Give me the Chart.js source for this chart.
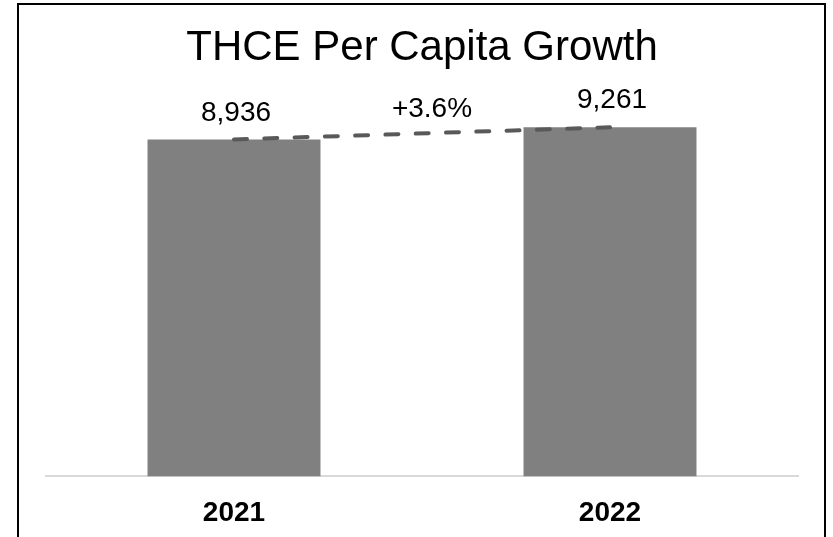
<!DOCTYPE html>
<html>
<head>
<meta charset="utf-8">
<script src="https://cdn.jsdelivr.net/npm/chart.js@4"></script>
<style>
  html, body { margin: 0; padding: 0; background: #fff; overflow: hidden; }
  #frame { position: absolute; left: 17px; top: 3px; width: 805px; height: 600px; border: 2px solid #000; }
  #growthChart { position: absolute; left: 0; top: 0; }
</style>
</head>
<body>
<div id="frame"></div>
<!-- canvas is a bit taller than the window, the bottom is cut off like in the original -->
<canvas id="growthChart" width="833" height="550"></canvas>
<script>
const years = ['2021', '2022'];
const perCapita = [8936, 9261];

const FONT = '"Liberation Sans", Arial, sans-serif';

// growth between the two years, e.g. +3.6%
let growth = (perCapita[1] / perCapita[0] - 1) * 100;
let growthText = (growth >= 0 ? '+' : '') + growth.toFixed(1) + '%';

/*labels above the bars and the growth label over the dashed line*/
const valueLabels = {
  id: 'valueLabels',
  afterDatasetsDraw(chart) {
    const ctx = chart.ctx;
    const bars = chart.getDatasetMeta(0).data;
    const pts = chart.getDatasetMeta(1).data;
    ctx.save();
    ctx.fillStyle = '#000';
    ctx.font = '28px ' + FONT;
    ctx.textAlign = 'center';
    ctx.textBaseline = 'alphabetic';
    for (i = 0; i < bars.length; i++) {
      ctx.fillText(perCapita[i].toLocaleString('en-US'), bars[i].x + 2, bars[i].y - 19);
    }
    let midX = (pts[0].x + pts[1].x) / 2;
    let midY = (pts[0].y + pts[1].y) / 2;
    ctx.fillText(growthText, midX + 10, midY - 16);
    ctx.restore();
  }
};

new Chart(document.getElementById('growthChart'), {
  data: {
    labels: years,
    datasets: [{
      type: 'bar',
      data: perCapita,
      backgroundColor: '#808080',
      categoryPercentage: 1,
      barPercentage: 0.46,
      order: 2
    },
    {
      type: 'line',
      data: perCapita,
      borderColor: '#595959',
      borderWidth: 4,
      borderDash: [13, 17.3],
      borderCapStyle: 'round',
      pointRadius: 0,
      fill: false,
      order: 1
    }]
  },
  options: {
    responsive: false,
    animation: false,
    layout: { padding: { left: 46, right: 35, top: 0, bottom: 0 } },
    plugins: {
      legend: { display: false },
      tooltip: { enabled: false },
      title: {
        display: true,
        text: 'THCE Per Capita Growth',
        color: '#000',
        font: { family: FONT, size: 42, weight: 'normal', lineHeight: 1.2 },
        padding: { top: 23, bottom: 26 }
      }
    },
    scales: {
      x: {
        grid: { display: false, drawTicks: false },
        border: { display: true, color: '#d9d9d9', width: 2 },
        ticks: { color: '#000', padding: 20, font: { family: FONT, size: 28, weight: 'bold' } }
      },
      y: {
        display: false,
        min: 0,
        max: 10000
      }
    }
  },
  plugins: [valueLabels]
});
</script>
</body>
</html>
